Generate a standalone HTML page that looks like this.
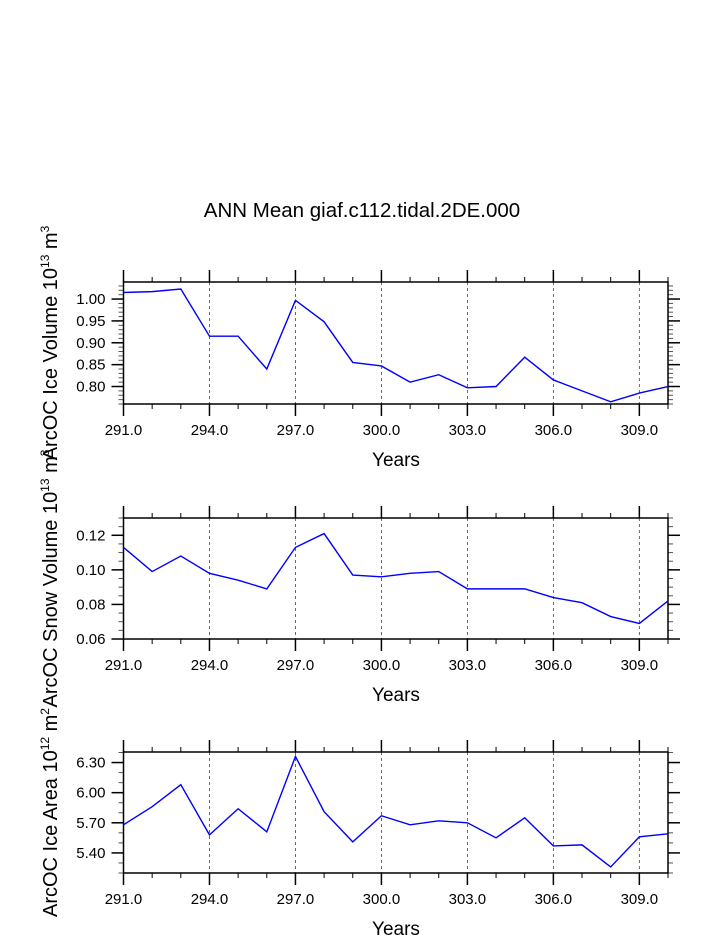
<!DOCTYPE html>
<html><head><meta charset="utf-8"><style>
body{margin:0;background:#fff}
svg{display:block;font-family:"Liberation Sans",Arial,sans-serif}
</style></head><body>
<svg id="c" width="723" height="935">
<text x="362" y="217" font-size="20.5" text-anchor="middle">ANN Mean giaf.c112.tidal.2DE.000</text>
</svg>
<script>
const years = [291,292,293,294,295,296,297,298,299,300,301,302,303,304,305,306,307,308,309,310];
const iceVolume = [1.015,1.017,1.023,0.915,0.915,0.84,0.997,0.948,0.855,0.847,0.81,0.827,0.797,0.80,0.867,0.815,0.79,0.765,0.785,0.80];
const snowVolume = [0.113,0.099,0.108,0.098,0.094,0.089,0.113,0.121,0.097,0.096,0.098,0.099,0.089,0.089,0.089,0.084,0.081,0.073,0.069,0.082];
const iceArea = [5.68,5.86,6.08,5.58,5.84,5.61,6.36,5.81,5.51,5.77,5.68,5.72,5.70,5.55,5.75,5.47,5.48,5.26,5.56,5.59];
const xTicks = [291,294,297,300,303,306,309];
const yTicks1 = [0.80,0.85,0.90,0.95,1.00];
const yTicks2 = [0.06,0.08,0.10,0.12];
const yTicks3 = [5.40,5.70,6.00,6.30];

const NS="http://www.w3.org/2000/svg";
const svg=document.getElementById('c');
function mk(tag,attrs,parent){const e=document.createElementNS(NS,tag);for(const k in attrs)e.setAttribute(k,attrs[k]);(parent||svg).appendChild(e);return e;}
const X0=123.5,X1=668;
function xs(v){return X0+(v-291)/(310-291)*(X1-X0);}

function panel(name,top,bot,ymin,ymax,yTicks,minorStep,dec,data,label,sup){
  const g=mk('g',{});
  
  
  const ys=v=>bot-(v-ymin)/(ymax-ymin)*(bot-top);
  xTicks.forEach(t=>{if(t>291){const l=mk('line',{x1:xs(t),x2:xs(t),y1:top,y2:bot,stroke:'#444','stroke-width':0.8,'stroke-dasharray':'3,3'},g);
    }});
  for(let y=291;y<=310;y++){const maj=xTicks.includes(y);const len=maj?12:5;
    mk('line',{x1:xs(y),x2:xs(y),y1:top,y2:top-len,stroke:'#000','stroke-width':maj?1.5:1},g);
    mk('line',{x1:xs(y),x2:xs(y),y1:bot,y2:bot+len,stroke:'#000','stroke-width':maj?1.5:1},g);}
  xTicks.forEach(t=>{const tx=mk('text',{x:xs(t),y:bot+31,'font-size':15,'text-anchor':'middle'},g);tx.textContent=t.toFixed(1);
    });
  const start=Math.ceil(ymin/minorStep-1e-6);
  for(let i=start;i*minorStep<=ymax+1e-9;i++){const v=i*minorStep;const yy=ys(v);
    mk('line',{x1:X0,x2:X0-5,y1:yy,y2:yy,stroke:'#555','stroke-width':1},g);
    mk('line',{x1:X1,x2:X1+5,y1:yy,y2:yy,stroke:'#555','stroke-width':1},g);}
  yTicks.forEach(t=>{const yy=ys(t);
    mk('line',{x1:X0,x2:X0-12,y1:yy,y2:yy,stroke:'#000','stroke-width':1.5},g);
    mk('line',{x1:X1,x2:X1+12,y1:yy,y2:yy,stroke:'#000','stroke-width':1.5},g);
    const tx=mk('text',{x:X0-18,y:yy+5,'font-size':15,'text-anchor':'end'},g);tx.textContent=t.toFixed(dec);
    });
  const fr=mk('rect',{x:X0,y:top,width:X1-X0,height:bot-top,fill:'none',stroke:'#000','stroke-width':1.5},g);
  
  const pts=years.map((y,i)=>xs(y)+','+ys(data[i])).join(' ');
  const pl=mk('polyline',{points:pts,fill:'none',stroke:'#0000ff','stroke-width':1.4},g);
  
  const xt=mk('text',{x:396,y:bot+62,'font-size':19,'text-anchor':'middle'},g);xt.textContent='Years';
  
  const cy=(top+bot)/2;
  const yt=mk('text',{x:0,y:0,'font-size':20,'text-anchor':'middle',transform:`translate(57,${cy}) rotate(-90)`},g);
  
  const a=mk('tspan',{},yt);a.textContent=label+' 10';
  const b=mk('tspan',{dy:-8,'font-size':12},yt);b.textContent=sup;
  const c=mk('tspan',{dy:8},yt);c.textContent=' m';
  const d=mk('tspan',{dy:-8,'font-size':12},yt);d.textContent=(name==='ice-area-panel')?'2':'3';
}
panel('ice-volume-panel',282,404,0.76,1.039,yTicks1,0.01,2,iceVolume,'ArcOC Ice Volume','13');
panel('snow-volume-panel',518,639,0.06,0.13,yTicks2,0.005,2,snowVolume,'ArcOC Snow Volume','13');
panel('ice-area-panel',752,873,5.2,6.405,yTicks3,0.1,2,iceArea,'ArcOC Ice Area','12');
</script>
</body></html>
